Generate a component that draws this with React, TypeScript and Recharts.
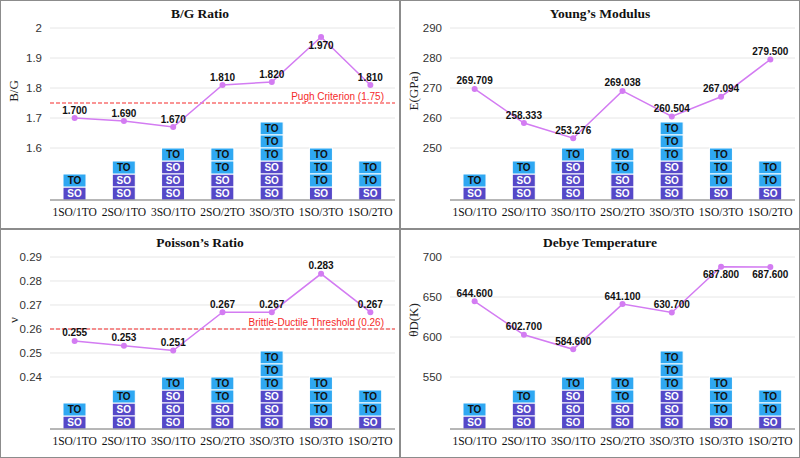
import React from 'react';
import {
  ComposedChart,
  Bar,
  Line,
  XAxis,
  YAxis,
  CartesianGrid,
  ReferenceLine,
  LabelList,
} from 'recharts';

// composition of each structure
const categories = ['1SO/1TO', '2SO/1TO', '3SO/1TO', '2SO/2TO', '3SO/3TO', '1SO/3TO', '1SO/2TO'];
const soCount = [1, 2, 3, 2, 3, 1, 1];
const toCount = [1, 1, 1, 2, 3, 3, 2];

// property values
const bgRatio = [1.7, 1.69, 1.67, 1.81, 1.82, 1.97, 1.81];
const youngsModulus = [269.709, 258.333, 253.276, 269.038, 260.504, 267.094, 279.5];
const poissonRatio = [0.255, 0.253, 0.251, 0.267, 0.267, 0.283, 0.267];
const debyeTemp = [644.6, 602.7, 584.6, 641.1, 630.7, 687.8, 687.6];

// axis ticks
const bgTicks = [1.6, 1.7, 1.8, 1.9, 2];
const youngsTicks = [250, 260, 270, 280, 290];
const poissonTicks = [0.24, 0.25, 0.26, 0.27, 0.28, 0.29];
const debyeTicks = [550, 600, 650, 700];

const SO_COLOR = '#5548c8';
const TO_COLOR = '#2fa8f2';
const LINE_COLOR = '#d37cf2';
const RED = '#f52a2a';
const SANS = '"Liberation Sans", Arial, Helvetica, sans-serif';
const SERIF = '"Liberation Serif", "Times New Roman", Times, serif';

const W = 398;
const H = 227;
const PLOT_TOP = 27;
const X_AXIS_H = 28;
const BLOCK_MAX = 13.23; // hidden axis for the stacked composition blocks

const panels = [
  { title: 'B/G Ratio', yLabel: 'B/G', values: bgRatio, ticks: bgTicks, domain: [1.4267, 2], ref: 1.75, refText: 'Pugh Criterion (1.75)' },
  { title: 'Young\u2019s Modulus', yLabel: 'E(GPa)', values: youngsModulus, ticks: youngsTicks, domain: [232.67, 290] },
  { title: 'Poisson\u2019s Ratio', yLabel: '\u03bd', values: poissonRatio, ticks: poissonTicks, domain: [0.21833, 0.29], ref: 0.26, refText: 'Brittle-Ductile Threshold (0.26)' },
  { title: 'Debye Temperature', yLabel: '\u03b8D(K)', values: debyeTemp, ticks: debyeTicks, domain: [485, 700] },
];

const makeBlocks = (kind: 'SO' | 'TO') => (props: any) => {
  const { x, y, width, height, payload } = props;
  const n = kind === 'SO' ? payload.so : payload.to;
  if (!n || !height) return null;
  const h = height / n;
  return (
    <g>
      {Array.from({ length: n }).map((_, i) => (
        <g key={i}>
          <rect
            x={x}
            y={y + i * h}
            width={width}
            height={h}
            fill={kind === 'SO' ? SO_COLOR : TO_COLOR}
            stroke="#ffffff"
            strokeWidth={1}
          />
          <text
            x={x + width / 2}
            y={y + i * h + h / 2 + 0.5}
            textAnchor="middle"
            dominantBaseline="central"
            fontFamily={SANS}
            fontSize={10}
            fontWeight="bold"
            fill={kind === 'SO' ? '#ffffff' : '#111111'}
          >
            {kind}
          </text>
        </g>
      ))}
    </g>
  );
};

const SOBlocks = makeBlocks('SO');
const TOBlocks = makeBlocks('TO');

const PointLabel = (props: any) => {
  const { x, y, value } = props;
  const below = y < PLOT_TOP + 13;
  return (
    <text
      x={x}
      y={below ? y + 8 : y - 8}
      textAnchor="middle"
      dominantBaseline="central"
      fontFamily={SANS}
      fontSize={10}
      fontWeight="bold"
      fill="#111111"
    >
      {Number(value).toFixed(3)}
    </text>
  );
};

const RefLabel = ({ viewBox, text }: any) => {
  if (!viewBox) return null;
  return (
    <text
      x={viewBox.x + viewBox.width - 11}
      y={viewBox.y - 3}
      textAnchor="end"
      fontFamily={SANS}
      fontSize={10}
      fill={RED}
    >
      {text}
    </text>
  );
};

function Panel({ cfg }: { cfg: (typeof panels)[number] }) {
  const data = categories.map((cat, i) => ({
    cat,
    so: soCount[i],
    to: toCount[i],
    v: cfg.values[i],
  }));

  return (
    <div
      style={{
        position: 'relative',
        width: 400,
        height: 229,
        boxSizing: 'border-box',
        border: '1px solid #8c8c8c',
        background: '#ffffff',
      }}
    >
      <div
        style={{
          position: 'absolute',
          left: 0,
          top: 5,
          width: 398,
          textAlign: 'center',
          fontFamily: SERIF,
          fontWeight: 'bold',
          fontSize: 13.5,
          color: '#111',
          lineHeight: '16px',
        }}
      >
        {cfg.title}
      </div>
      <div
        style={{
          position: 'absolute',
          left: 13,
          top: 90,
          width: 0,
          height: 0,
        }}
      >
        <div
          style={{
            position: 'absolute',
            transform: 'translate(-50%, -50%) rotate(-90deg)',
            whiteSpace: 'nowrap',
            fontFamily: SERIF,
            fontSize: 13,
            color: '#222',
            lineHeight: '14px',
          }}
        >
          {cfg.yLabel}
        </div>
      </div>
      <ComposedChart
        width={W}
        height={H}
        data={data}
        margin={{ top: PLOT_TOP, right: 4, left: 0, bottom: 0 }}
      >
        <CartesianGrid yAxisId="main" vertical={false} stroke="#e6e6e6" />
        <XAxis
          dataKey="cat"
          interval={0}
          tickLine={false}
          axisLine={{ stroke: '#7a7a7a' }}
          height={X_AXIS_H}
          tick={{ fontFamily: SERIF, fontSize: 11.5, fill: '#111' }}
        />
        <YAxis
          yAxisId="main"
          width={49}
          domain={cfg.domain}
          ticks={cfg.ticks}
          allowDataOverflow
          axisLine={false}
          tickLine={false}
          tick={{ fontFamily: SANS, fontSize: 11.5, fill: '#333' }}
        />
        <YAxis yAxisId="blocks" orientation="right" width={0} hide domain={[0, BLOCK_MAX]} allowDataOverflow />
        <Bar yAxisId="blocks" dataKey="so" stackId="c" barSize={23} shape={SOBlocks} isAnimationActive={false} />
        <Bar yAxisId="blocks" dataKey="to" stackId="c" barSize={23} shape={TOBlocks} isAnimationActive={false} />
        {cfg.ref !== undefined && (
          <ReferenceLine
            yAxisId="main"
            y={cfg.ref}
            stroke={RED}
            strokeWidth={1.2}
            strokeDasharray="4 2"
            label={<RefLabel text={cfg.refText} />}
          />
        )}
        <Line
          yAxisId="main"
          dataKey="v"
          type="linear"
          stroke={LINE_COLOR}
          strokeWidth={1.5}
          dot={{ r: 3, fill: LINE_COLOR, stroke: LINE_COLOR, strokeWidth: 0 }}
          isAnimationActive={false}
        >
          <LabelList dataKey="v" content={PointLabel} />
        </Line>
      </ComposedChart>
    </div>
  );
}

export default function App() {
  return (
    <div
      style={{
        position: 'absolute',
        left: 0,
        top: 0,
        width: 800,
        height: 458,
        display: 'grid',
        gridTemplateColumns: '400px 400px',
        gridTemplateRows: '229px 229px',
        background: '#ffffff',
      }}
    >
      {panels.map((p) => (
        <Panel key={p.title} cfg={p} />
      ))}
    </div>
  );
}
